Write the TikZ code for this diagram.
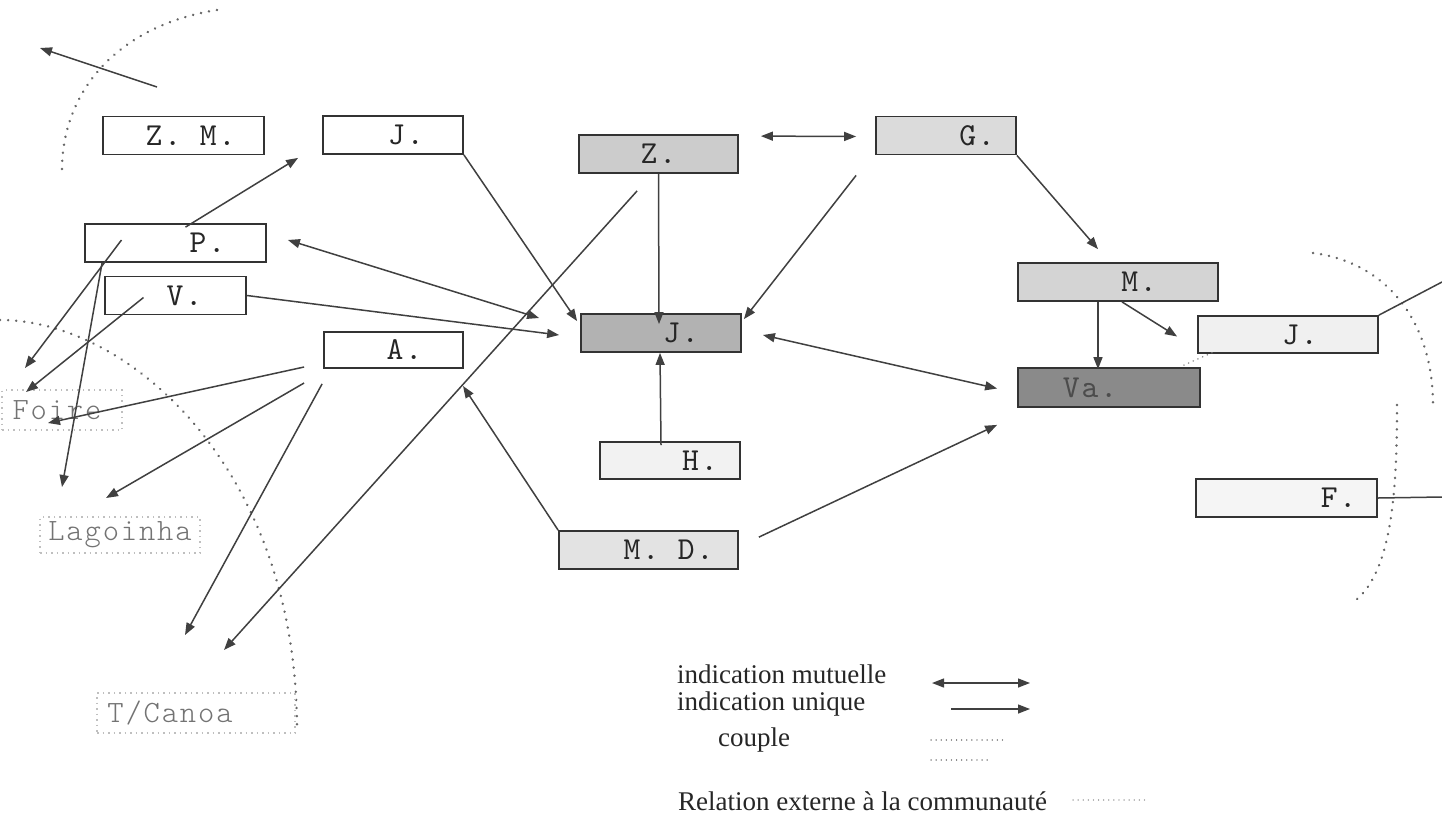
\documentclass[tikz,border=0pt]{standalone}
\usepackage{fontspec}
\setmainfont{Liberation Serif}
\newfontfamily\boxfont{lmmono10-regular.otf}[LetterSpace=6]
\newfontfamily\spotfont{lmmonolt10-regular.otf}[LetterSpace=6]
\usepackage{tikz}
\usetikzlibrary{arrows.meta}
\newcommand{\lbl}[2]{\hspace*{#1pt}\hspace*{#1pt}#2}

\begin{document}
\begin{tikzpicture}[
  x=1pt,y=-1pt,
  box/.style ={draw=black!80,line width=1.8pt,minimum height=38pt,inner sep=0pt,
               font=\boxfont\fontsize{32}{34}\selectfont,text=black!85},
  spot/.style={draw=black!25,line width=1.2pt,dash pattern=on 1.5pt off 4pt,inner sep=0pt,
               font=\spotfont\fontsize{31}{34}\selectfont,text=black!55},
  arr/.style ={-{Triangle[length=12pt,width=9pt]},draw=black!75,line width=1.5pt},
  mut/.style ={{Triangle[length=12pt,width=9pt]}-{Triangle[length=12pt,width=9pt]},draw=black!75,line width=1.5pt},
  lnk/.style ={draw=black!75,line width=1.5pt},
  ext/.style ={draw=black!60,line width=2.6pt,dash pattern=on 0.1pt off 8pt,line cap=round},
  cpl/.style ={draw=black!50,line width=1.6pt,dash pattern=on 0.1pt off 5pt,line cap=round},
  leg/.style ={font=\fontsize{27}{30}\selectfont,text=black!85,anchor=base west,inner sep=0pt},
]
\fill[white] (0,0) rectangle (1442,817);
\useasboundingbox (0,0) rectangle (1442,817);

\draw[ext] (217,10) .. controls (120,25) and (60,90) .. (62,175);
\draw[ext] (0,320) .. controls (130,320) and (297,470) .. (297,730);
\draw[ext] (1313,253) .. controls (1385,262) and (1433,320) .. (1433,405);
\draw[ext] (1397,405) .. controls (1397,490) and (1392,570) .. (1356,600);

\node[spot,minimum width=120pt,minimum height=40pt] (foire) at (62,410) {\lbl{-5}{Foire}};
\node[spot,minimum width=160pt,minimum height=36pt] (lago) at (120,535) {Lagoinha};
\node[spot,minimum width=198pt,minimum height=40pt] (canoa) at (196,713) {\lbl{-26}{T/Canoa}};

\node[box,minimum width=161pt] (zm) at (183.5,135.5) {\lbl{7}{Z. M.}};
\node[box,minimum width=140pt] (jt) at (393,135) {\lbl{13}{J.}};
\node[box,minimum width=181pt] (p) at (175.5,243) {\lbl{32}{P.}};
\node[box,minimum width=141pt] (v) at (175.5,295.5) {\lbl{9}{V.}};
\node[box,minimum width=139pt,minimum height=36pt] (a) at (393.5,350) {\lbl{11}{A.}};
\node[box,minimum width=159pt,fill=black!20] (z) at (658.5,154) {Z.};
\node[box,minimum width=140pt,fill=black!14] (g) at (946,135.5) {\lbl{31}{G.}};
\node[box,minimum width=160pt,fill=black!30] (jc) at (661,333) {\lbl{20}{J.}};
\node[box,minimum width=140pt,minimum height=37pt,fill=black!5] (h) at (670,460.5) {\lbl{30}{H.}};
\node[box,minimum width=179pt,fill=black!11] (md) at (648.5,550) {\lbl{20}{M. D.}};
\node[box,minimum width=200pt,fill=black!17] (m) at (1118,282) {\lbl{21}{M.}};
\node[box,minimum width=180pt,minimum height=37pt,fill=black!6] (jr) at (1288,334.5) {\lbl{12}{J.}};
\node[box,minimum width=182pt,minimum height=39pt,fill=black!46,text=black!70] (va) at (1109,387.5) {\lbl{-19}{Va.}};
\node[box,minimum width=181pt,fill=black!4] (f) at (1286.5,498) {\lbl{52}{F.}};

\coordinate (f1) at (25,368);
\coordinate (f2) at (62,487);
\coordinate (f3) at (26,392);
\coordinate (f4) at (48,423);
\coordinate (f5) at (106,498);
\coordinate (f6) at (185,635);
\coordinate (f7) at (224,650);
\coordinate (f8) at (463,386);
\coordinate (ex1s) at (157,87);
\coordinate (ex1e) at (40,48);
\coordinate (ex2) at (1442,282);
\coordinate (ex3) at (1442,497);

\draw[arr] ([shift={(10,4)}]p.north) -- ([shift={(-24,3)}]jt.south west);
\draw[arr] ([shift={(-54,-3)}]p.center) -- (f1);
\draw[arr] ([shift={(18,0)}]p.south west) -- (f2);
\draw[arr] ([shift={(-32,2)}]v.center) -- (f3);
\draw[arr] (v.east) -- ([shift={(-21,2)}]jc.west);
\draw[mut] ([shift={(21,-3)}]p.east) -- ([shift={(-41,-15)}]jc.west);
\draw[arr] (jt.south east) -- ([shift={(-3,8)}]jc.north west);
\draw[arr] ([shift={(-19,17)}]a.west) -- (f4);
\draw[arr] ([shift={(-19,33)}]a.west) -- (f5);
\draw[arr] ([shift={(-1,15)}]a.south west) -- (f6);
\draw[arr] ([shift={(59,17)}]z.south west) -- (f7);
\draw[arr] (z.south) -- ([shift={(-2,11)}]jc.north);
\draw[arr] ([shift={(-9,4)}]h.north) -- ([shift={(-1,0)}]jc.south);
\draw[arr] ([shift={(-19,20)}]g.south west) -- ([shift={(2,6)}]jc.north east);
\draw[mut] ([shift={(22,2)}]z.north east) -- ([shift={(-19,1)}]g.west);
\draw[arr] (g.south east) -- ([shift={(-20,-13)}]m.north);
\draw[mut] ([shift={(21,2)}]jc.east) -- ([shift={(-20,1)}]va.west);
\draw[arr] ([shift={(20,7)}]md.north east) -- ([shift={(-20,17)}]va.south west);
\draw[arr] (md.north west) -- (f8);
\draw[arr] ([shift={(-20,0)}]m.south) -- ([shift={(-11,2)}]va.north);
\draw[arr] ([shift={(4,0)}]m.south) -- ([shift={(-20,2)}]jr.west);
\draw[arr] (ex1s) -- (ex1e);
\draw[lnk] (jr.north east) -- (ex2);
\draw[lnk] (f.east) -- (ex3);
\draw[cpl] ([shift={(-17,-2)}]va.north east) -- ([shift={(19,-3)}]jr.south west);

\node[leg] (lmut) at (677,683) {indication mutuelle};
\node[leg] (luni) at (677,710) {indication unique};
\node[leg] (lcpl) at (718,746) {couple};
\node[leg] (lext) at (678,810) {Relation externe à la communauté};
\coordinate (km1) at (932,683);
\coordinate (km2) at (1030,683);
\coordinate (ku1) at (951,709);
\coordinate (ku2) at (1030,709);
\draw[mut,line width=1.3pt] (km1) -- (km2);
\draw[arr,line width=1.3pt] (ku1) -- (ku2);
\draw[cpl,line width=1.3pt] (931,740) -- (1006,740);
\draw[cpl,line width=1.3pt] (931,760) -- (991,760);
\draw[cpl,line width=1.3pt,draw=black!35] (1073,800) -- (1148,800);
\end{tikzpicture}
\end{document}
